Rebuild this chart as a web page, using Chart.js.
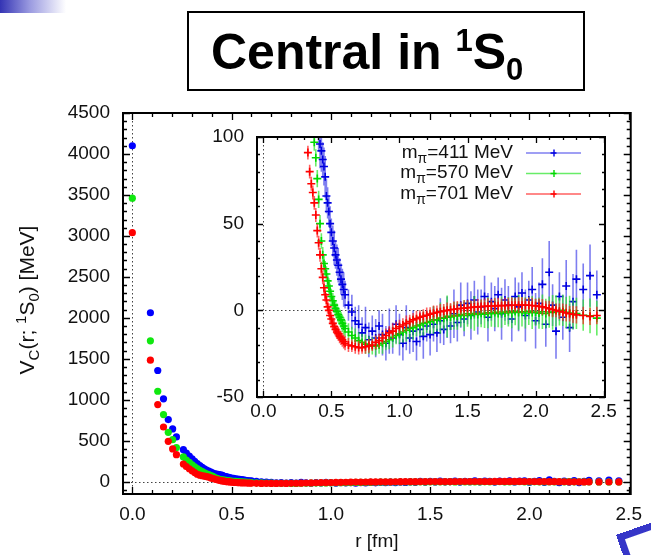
<!DOCTYPE html>
<html>
<head>
<meta charset="utf-8">
<title>Central in 1S0</title>
<script src="https://cdn.jsdelivr.net/npm/chart.js@4.4.0/dist/chart.umd.min.js"></script>
<style>
  html, body { margin: 0; padding: 0; background: #fff; }
  #wrap { position: relative; width: 651px; height: 555px; overflow: hidden; }
  #mainChart { position: absolute; left: 0; top: 0; }
  #insetChart { position: absolute; left: 200px; top: 125px; }
  #title {
    position: absolute; left: 187px; top: 11px; width: 372px; height: 76px;
    padding-left: 22px; border: 2px solid #000;
    font: bold 50px "Liberation Sans", Arial, sans-serif; line-height: 78px; color: #000;
  }
  #title sup { font-size: 31px; vertical-align: 18px; line-height: 0; }
  #title sub { font-size: 31px; vertical-align: -11px; line-height: 0; }
  #bullet { position: absolute; left: 0; top: 0; width: 66px; height: 13px;
    background: linear-gradient(to right, #3434b4, #9a9ae0 45%, #fff); }
  #corner { position: absolute; left: 616px; top: 535px; width: 120px; height: 120px;
    border-top: 7px solid #3636c8; border-left: 7px solid #3636c8;
    transform-origin: 0 0; transform: rotate(-19.4deg); }
</style>
</head>
<body>
<div id="wrap">
  <canvas id="mainChart" width="651" height="555"></canvas>
  <canvas id="insetChart" width="420" height="305"></canvas>
  <div id="bullet"></div>
  <div id="title">Central in <sup>1</sup>S<sub>0</sub></div>
  <div id="corner"></div>
</div>
<script>
const FONT = '"Liberation Sans", Arial, sans-serif';

// r [fm] of the lattice points (shared by the three pion masses)
const rFm = [
  0, 0.091, 0.128, 0.157, 0.181, 0.203, 0.222,
  0.257, 0.272, 0.287, 0.301, 0.314, 0.327, 0.340, 0.352, 0.363, 0.374,
  0.385, 0.396, 0.406, 0.416, 0.426, 0.436, 0.445, 0.454, 0.463, 0.472,
  0.481, 0.490, 0.499, 0.510, 0.520, 0.530, 0.540, 0.550, 0.560, 0.570,
  0.580, 0.590, 0.600,
  0.625, 0.650, 0.675, 0.700, 0.725, 0.750, 0.775, 0.800,
  0.825, 0.850, 0.875, 0.900, 0.925, 0.950, 0.975, 1.000,
  1.025, 1.050, 1.075, 1.100, 1.125, 1.150, 1.175, 1.200,
  1.225, 1.250, 1.275, 1.300, 1.325, 1.350, 1.375, 1.400,
  1.425, 1.450, 1.475, 1.500, 1.525, 1.550, 1.575, 1.600,
  1.625, 1.650, 1.675, 1.700, 1.725, 1.750, 1.775, 1.800,
  1.825, 1.850, 1.875, 1.900, 1.925, 1.950, 1.975, 2.000,
  2.025, 2.050, 2.075, 2.100, 2.125, 2.150, 2.175, 2.200,
  2.225, 2.250, 2.275, 2.300,
  2.350, 2.400, 2.450
];

// V_C [MeV], m_pi = 411 MeV
const v411 = [
  4100, 2062, 1357, 1011, 758, 644, 546,
  391, 350, 312, 278, 248, 222, 198, 176, 158, 142,
  128, 116, 105, 96, 92, 87, 83, 77, 66, 62,
  57, 50, 45, 40, 36, 32, 29, 26, 22, 18,
  15, 12, 9,
  3, -1, -6, -8, -13, -10, -17, -12,
  -16, -9, -14, -19, -12, -16, -8, -14,
  -19, -10, -16, -12, -18, -11, -15, -9,
  -14, -8, -13, -6, -11, -4, -9, -2,
  -7, 3, -5, 4, -3, 6, -1, 2,
  8, -4, 5, 1, 9, -2, 6, 3,
  -5, 8, 2, 10, -3, 6, 12, -6,
  4, 15, -8, 22, 3, -12, 8, -4,
  14, -10, 5, 18,
  12, 20, 9
];
const e411 = [
  60, 30, 20, 15, 12, 10, 10,
  12, 12, 12, 12, 12, 12, 12, 12, 12, 12,
  12, 12, 13, 14, 12, 10, 11, 12, 10, 9,
  9, 10, 8, 9, 10, 8, 9, 10, 8, 9,
  9, 10, 8,
  9, 10, 8, 11, 9, 12, 10, 9,
  11, 9, 12, 10, 13, 9, 11, 12,
  10, 13, 9, 12, 11, 10, 13, 9,
  12, 10, 11, 13, 9, 12, 10, 14,
  11, 13, 10, 12, 14, 11, 13, 10,
  12, 14, 11, 13, 10, 15, 12, 11,
  13, 11, 14, 12, 15, 11, 13, 16,
  12, 15, 13, 18, 12, 16, 14, 13,
  15, 14, 16, 17,
  15, 18, 14
];

// V_C [MeV], m_pi = 570 MeV
const v570 = [
  3460, 1720, 1104, 819, 603, 513, 416,
  302, 265, 235, 205, 180, 160, 140, 122, 108, 97,
  88, 76, 64, 50, 40, 32, 27, 24, 21, 17,
  14, 11, 8, 5.5, 3, 1, -0.5, -2.5, -4, -5.5,
  -7.5, -9, -10.5,
  -12.5, -14.5, -16, -17.5, -18.5, -19.5, -20, -20.5,
  -20.5, -20, -19, -18, -17, -15.5, -14.5, -13.5,
  -12.5, -11.5, -10.5, -10, -9, -8.5, -7.5, -7,
  -6.5, -5.5, -5.5, -4.5, -4.5, -3.5, -3.8, -3,
  -3.2, -2.5, -3, -2, -2.6, -1.8, -2.4, -1.7,
  -2.2, -1.4, -2, -1.2, -1.8, -1, -1.5, -0.8,
  -1.4, -0.6, -1.2, -0.8, -1.5, -0.5, -1.3, -1,
  -1.6, -0.8, -1.8, -1, -1.2, -0.3, -0.8, 0,
  -1.2, -1.6, -2.4, -1.8,
  -2.8, -3.2, -4.5
];
const e570 = [
  40, 20, 12, 10, 8, 7, 6,
  6, 6, 6, 5, 5, 5, 5, 5, 5, 5,
  5, 5, 5, 5, 4.5, 4.5, 4.5, 4.5, 4.5, 4.5,
  4.5, 4.5, 4.5, 4.5, 4.5, 4.5, 4.5, 4.5, 4.5, 4.5,
  5, 5, 5,
  5, 5, 5.5, 5, 5, 5.5, 5, 5,
  5.5, 5, 6, 5, 5.5, 6, 5, 6,
  6, 6.5, 6, 7, 6, 6.5, 7, 6,
  7, 8, 6.5, 9, 7, 12, 7.5, 8,
  8, 7, 9, 7.5, 8, 10, 7, 8,
  8, 9, 7.5, 8.5, 8, 9, 7, 8.5,
  9, 8, 10, 8.5, 9, 8, 9.5, 8,
  9, 10, 8.5, 9, 10, 9, 8, 9,
  9, 10, 8.5, 9,
  9, 10, 10
];

// V_C [MeV], m_pi = 701 MeV
const v701 = [
  3040, 1483, 941, 668, 493, 400, 330,
  216, 185, 158, 134, 112, 91, 80, 73, 68, 62,
  55, 46, 39, 32, 24, 19, 13, 9, 6, 2,
  0, -3, -5, -7.5, -9.5, -11, -12.5, -13.5, -15, -16,
  -17, -18, -19,
  -20, -20.5, -21, -21.5, -21.5, -21, -20.5, -20,
  -18.5, -17.5, -16, -14.5, -13, -12, -10.5, -9.5,
  -8.5, -7.5, -6.5, -5.5, -4.8, -4, -3.4, -2.8,
  -2.2, -1.7, -1.2, -0.8, -0.4, 0, 0.3, 0.6,
  0.9, 1.1, 1.3, 1.5, 1.7, 1.9, 2.0, 2.2,
  2.3, 2.4, 2.5, 2.6, 2.7, 2.7, 2.8, 2.8,
  2.9, 2.9, 3.0, 3.0, 3.0, 2.9, 2.8, 2.6,
  2.3, 2.0, 1.5, 1.0, 0.5, 0, -0.5, -1.0,
  -1.5, -2.0, -2.3, -2.6,
  -3.0, -3.5, -3.0
];
const e701 = [
  30, 15, 10, 8, 6, 5, 5,
  4, 4, 4, 4, 4, 4, 4, 4, 4, 4,
  4, 4, 4, 4, 4, 4, 4, 4, 4, 4,
  4, 4, 4, 4, 4, 4, 4, 4, 4, 4,
  4, 4, 4,
  4, 3.5, 4, 4, 3.5, 4, 4, 3.5,
  4, 4, 3.5, 4, 4, 4.5, 4, 4,
  4, 4.5, 4, 4, 4.5, 4, 4, 4.5,
  4, 4.5, 4, 4.5, 4, 4.5, 4, 4.5,
  4.5, 4, 4.5, 4.5, 4, 4.5, 4.5, 4,
  4.5, 4.5, 4, 4.5, 4.5, 4, 4.5, 4.5,
  4.5, 4, 4.5, 4.5, 4, 4.5, 4.5, 4,
  4.5, 4.5, 4, 4.5, 4.5, 4, 4.5, 5,
  5, 4.5, 5, 5,
  5, 5, 5
];

const xTickVals = [0, 0.5, 1.0, 1.5, 2.0, 2.5];
const mainYTicks = [0, 500, 1000, 1500, 2000, 2500, 3000, 3500, 4000, 4500];
const insetYTicks = [-50, 0, 50, 100];
const legendMass = ['411', '570', '701'];
const yTitleParts = [['V', 0], ['C', 1], ['(r; ', 0], ['1', -1], ['S', 0], ['0', 1], [') [MeV]', 0]];

function points(vals) {
  return rFm.map((r, i) => ({ x: r, y: vals[i] }));
}

// frame, inward ticks on all four sides, dotted zero lines
const framePlugin = {
  id: 'frame',
  beforeDraw(chart, args, o) {
    if (!o.fill) return;
    const { ctx, chartArea: a } = chart;
    ctx.save();
    ctx.fillStyle = o.fill;
    ctx.fillRect(a.left, a.top, a.width, a.height);
    ctx.restore();
  },
  beforeDatasetsDraw(chart) {
    const { ctx, chartArea: a, scales: { x, y } } = chart;
    const x0 = Math.round(x.getPixelForValue(0)) + 0.5;
    const y0 = Math.round(y.getPixelForValue(0)) + 0.5;
    ctx.save();
    ctx.strokeStyle = '#444';
    ctx.lineWidth = 1;
    ctx.setLineDash([1.5, 2.5]);
    ctx.beginPath();
    ctx.moveTo(a.left, y0); ctx.lineTo(a.right, y0);
    ctx.moveTo(x0, a.top); ctx.lineTo(x0, a.bottom);
    ctx.stroke();
    ctx.restore();
  },
  afterDatasetsDraw(chart, args, o) {
    const { ctx, chartArea: a, scales: { x, y } } = chart;
    const isMajor = (v, step) => Math.abs(v / step - Math.round(v / step)) < 1e-6;
    ctx.save();
    ctx.strokeStyle = '#000';
    ctx.lineWidth = 1.3;
    ctx.beginPath();
    for (let k = Math.ceil(x.min / o.xMinor - 1e-9); k * o.xMinor <= x.max + 1e-9; k++) {
      const v = k * o.xMinor;
      const len = isMajor(v, o.xMajor) ? o.majorLen : o.minorLen;
      const px = Math.round(x.getPixelForValue(v)) + 0.5;
      ctx.moveTo(px, a.bottom); ctx.lineTo(px, a.bottom - len);
      ctx.moveTo(px, a.top); ctx.lineTo(px, a.top + len);
    }
    for (let k = Math.ceil(y.min / o.yMinor - 1e-9); k * o.yMinor <= y.max + 1e-9; k++) {
      const v = k * o.yMinor;
      const len = isMajor(v, o.yMajor) ? o.majorLen : o.minorLen;
      const py = Math.round(y.getPixelForValue(v)) + 0.5;
      ctx.moveTo(a.left, py); ctx.lineTo(a.left + len, py);
      ctx.moveTo(a.right, py); ctx.lineTo(a.right - len, py);
    }
    ctx.stroke();
    ctx.lineWidth = 2;
    ctx.strokeRect(a.left, a.top, a.width, a.height);
    ctx.restore();
  }
};

// vertical error bars, drawn just before each dataset's crosses
const errorBarPlugin = {
  id: 'errorBars',
  beforeDatasetDraw(chart, args) {
    const ds = chart.data.datasets[args.index];
    if (!ds.errors) return;
    const { ctx, chartArea: a, scales: { x, y } } = chart;
    ctx.save();
    ctx.beginPath();
    ctx.rect(a.left, a.top, a.width, a.height);
    ctx.clip();
    ctx.strokeStyle = ds.barColor;
    ctx.lineWidth = 1.6;
    ctx.beginPath();
    ds.data.forEach((p, i) => {
      const px = x.getPixelForValue(p.x);
      ctx.moveTo(px, y.getPixelForValue(p.y - ds.errors[i]));
      ctx.lineTo(px, y.getPixelForValue(p.y + ds.errors[i]));
    });
    ctx.stroke();
    ctx.restore();
  }
};

// rotated y-axis title with sub/superscripts
const yTitlePlugin = {
  id: 'yTitle',
  afterDraw(chart, args, o) {
    const ctx = chart.ctx;
    const big = o.size + 'px ' + FONT, small = o.smallSize + 'px ' + FONT;
    ctx.save();
    ctx.translate(o.x, o.y);
    ctx.rotate(-Math.PI / 2);
    ctx.fillStyle = '#111';
    ctx.textBaseline = 'alphabetic';
    let total = 0;
    yTitleParts.forEach(p => { ctx.font = p[1] ? small : big; total += ctx.measureText(p[0]).width; });
    let cx = -total / 2;
    yTitleParts.forEach(p => {
      ctx.font = p[1] ? small : big;
      const dy = p[1] === 1 ? o.subShift : (p[1] === -1 ? -o.supShift : 0);
      ctx.fillText(p[0], cx, dy);
      cx += ctx.measureText(p[0]).width;
    });
    ctx.restore();
  }
};

// inset legend: "m_pi=... MeV" then a line sample with a cross
const legendPlugin = {
  id: 'massLegend',
  afterDraw(chart, args, o) {
    const ctx = chart.ctx;
    const big = o.size + 'px ' + FONT, small = o.smallSize + 'px ' + FONT;
    ctx.save();
    ctx.fillStyle = '#111';
    ctx.textBaseline = 'alphabetic';
    legendMass.forEach((m, i) => {
      const ds = chart.data.datasets.find(d => d.mass === m);
      const rowY = o.rows[i];
      const rest = '=' + m + ' MeV';
      ctx.font = big;
      const wm = ctx.measureText('m').width, wr = ctx.measureText(rest).width;
      ctx.font = small;
      const wp = ctx.measureText('\u03c0').width;
      let tx = o.textRight - (wm + wp + wr);
      ctx.font = big;
      ctx.fillText('m', tx, rowY + o.baseShift);
      tx += wm;
      ctx.font = small;
      ctx.fillText('\u03c0', tx, rowY + o.baseShift + o.subShift);
      tx += wp;
      ctx.font = big;
      ctx.fillText(rest, tx, rowY + o.baseShift);
      ctx.strokeStyle = ds.barColor;
      ctx.lineWidth = 1.6;
      ctx.beginPath();
      ctx.moveTo(o.lineLeft, rowY + 0.5); ctx.lineTo(o.lineRight, rowY + 0.5);
      ctx.stroke();
      const cxm = (o.lineLeft + o.lineRight) / 2;
      ctx.strokeStyle = ds.borderColor;
      ctx.lineWidth = 1.4;
      ctx.beginPath();
      ctx.moveTo(cxm - 3, rowY + 0.5); ctx.lineTo(cxm + 3, rowY + 0.5);
      ctx.moveTo(cxm + 0.5, rowY - 3); ctx.lineTo(cxm + 0.5, rowY + 4);
      ctx.stroke();
    });
    ctx.restore();
  }
};

const tickFont = { family: FONT, size: 19 };

// keep tick-label overhang from pushing the plot area around
function fixY(width) {
  return s => { s.width = width; s.paddingTop = 0; s.paddingBottom = 0; };
}

// main plot: filled dots
new Chart(document.getElementById('mainChart'), {
  type: 'scatter',
  data: {
    datasets: [
      { data: points(v701), backgroundColor: '#ff0000', order: 0 },
      { data: points(v570), backgroundColor: '#10e810', order: 1 },
      { data: points(v411), backgroundColor: '#0000ff', order: 2 }
    ]
  },
  options: {
    responsive: false,
    animation: false,
    events: [],
    layout: { padding: { top: 113, right: 13, left: 0, bottom: 0 } },
    elements: { point: { radius: 3.6, hoverRadius: 3.6, borderWidth: 0 } },
    plugins: {
      legend: { display: false },
      tooltip: { enabled: false },
      frame: { xMinor: 0.1, xMajor: 0.5, yMinor: 100, yMajor: 500, majorLen: 7, minorLen: 4 },
      yTitle: { x: 34, y: 300, size: 21, smallSize: 15, subShift: 5, supShift: 8 }
    },
    scales: {
      x: {
        type: 'linear', min: -0.047, max: 2.51,
        afterBuildTicks: s => { s.ticks = xTickVals.map(v => ({ value: v })); },
        afterFit: s => { s.height = 61; },
        grid: { display: false, drawTicks: false },
        border: { display: false },
        ticks: { callback: v => v.toFixed(1), font: tickFont, color: '#111', padding: 9, maxRotation: 0, autoSkip: false },
        title: { display: true, text: 'r [fm]', font: { family: FONT, size: 19 }, color: '#111', padding: { top: 0, bottom: 2 } }
      },
      y: {
        type: 'linear', min: -150, max: 4500,
        afterBuildTicks: s => { s.ticks = mainYTicks.map(v => ({ value: v })); },
        afterFit: fixY(123),
        grid: { display: false, drawTicks: false },
        border: { display: false },
        ticks: { callback: v => String(v), font: tickFont, color: '#111', padding: 13, autoSkip: false }
      }
    }
  },
  plugins: [framePlugin, yTitlePlugin]
});

// inset: crosses with error bars
new Chart(document.getElementById('insetChart'), {
  type: 'scatter',
  data: {
    datasets: [
      { mass: '701', data: points(v701), errors: e701, borderColor: '#ff0000', barColor: 'rgba(255,30,30,0.7)', order: 0 },
      { mass: '570', data: points(v570), errors: e570, borderColor: '#00d800', barColor: 'rgba(40,230,40,0.7)', order: 1 },
      { mass: '411', data: points(v411), errors: e411, borderColor: '#0000e0', barColor: 'rgba(40,40,230,0.6)', order: 2 }
    ]
  },
  options: {
    responsive: false,
    animation: false,
    events: [],
    layout: { padding: { top: 12, right: 15, left: 0, bottom: 0 } },
    datasets: { scatter: { clip: 0 } },
    elements: { point: { pointStyle: 'cross', radius: 4, hoverRadius: 4, borderWidth: 1.6 } },
    plugins: {
      legend: { display: false },
      tooltip: { enabled: false },
      frame: { fill: '#fff', xMinor: 0.1, xMajor: 0.5, yMinor: 10, yMajor: 50, majorLen: 6, minorLen: 3 },
      massLegend: { rows: [27.5, 48, 68.5], textRight: 313, lineLeft: 326, lineRight: 381,
                    size: 19, smallSize: 14, baseShift: 5, subShift: 5 }
    },
    scales: {
      x: {
        type: 'linear', min: -0.047, max: 2.51,
        afterBuildTicks: s => { s.ticks = xTickVals.map(v => ({ value: v })); },
        afterFit: s => { s.height = 33; },
        grid: { display: false, drawTicks: false },
        border: { display: false },
        ticks: { callback: v => v.toFixed(1), font: tickFont, color: '#111', padding: 3, maxRotation: 0, autoSkip: false }
      },
      y: {
        type: 'linear', min: -50, max: 100,
        afterBuildTicks: s => { s.ticks = insetYTicks.map(v => ({ value: v })); },
        afterFit: fixY(57),
        grid: { display: false, drawTicks: false },
        border: { display: false },
        ticks: { callback: v => String(v), font: tickFont, color: '#111', padding: 13, autoSkip: false }
      }
    }
  },
  plugins: [framePlugin, errorBarPlugin, legendPlugin]
});
</script>
</body>
</html>
